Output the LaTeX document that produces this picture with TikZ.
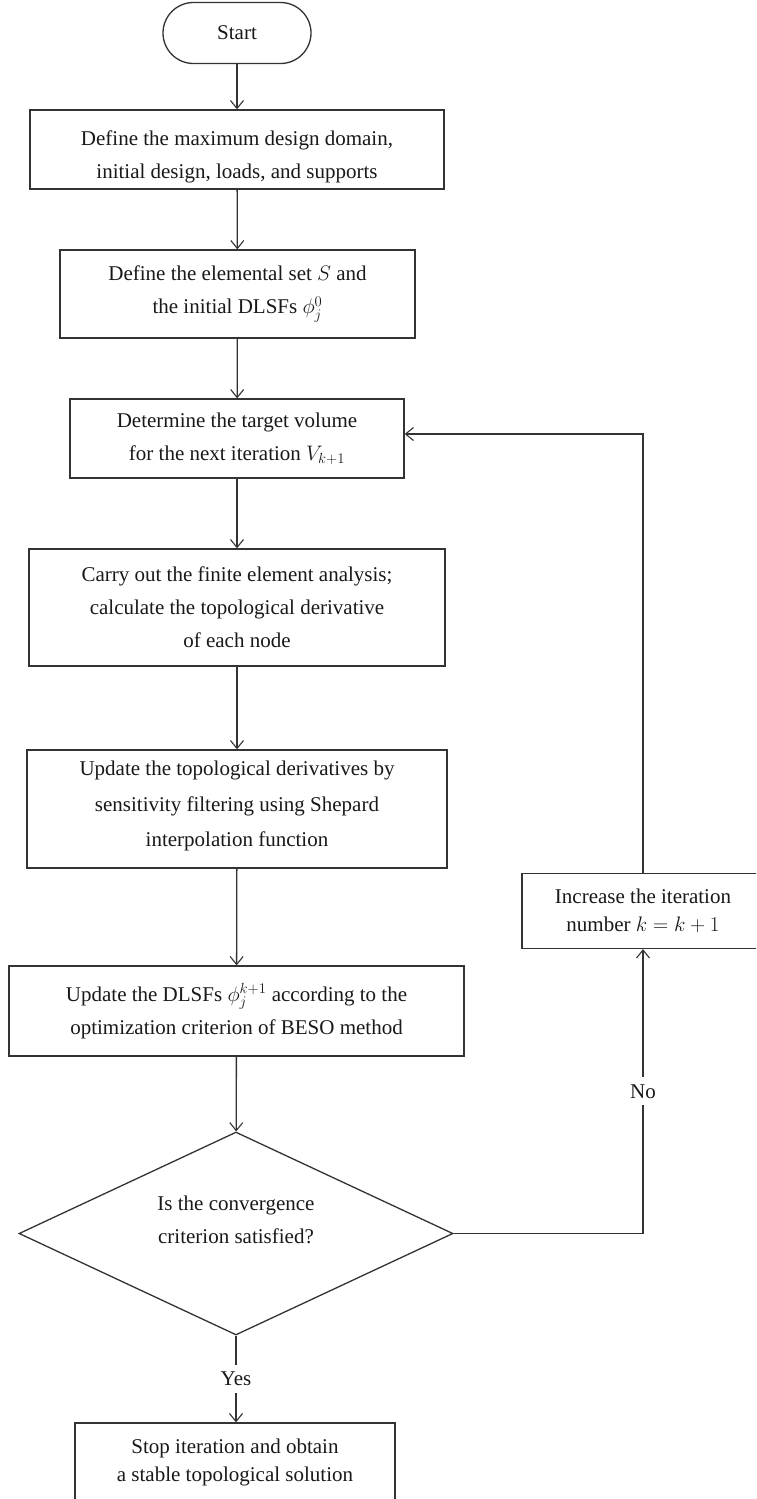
\documentclass[tikz,border=0pt]{standalone}
\usepackage{fix-cm}
\usepackage{fontspec}
\setmainfont{Liberation Serif}
\usetikzlibrary{shapes.geometric,arrows.meta}
\newcommand{\shifttext}[2]{\raisebox{#1}[\height][\depth]{\begin{tabular}{@{}c@{}}#2\end{tabular}}}
\begin{document}
\begin{tikzpicture}[x=1pt,y=-1pt,
  line width=1.3pt,
  txt/.style={text=black!90, font=\fontsize{21}{33}\selectfont},
  box/.style={txt, draw=black!80, rectangle, align=center, inner sep=0pt},
  arr/.style={draw=black!80,-{Straight Barb[length=8pt,width=13pt,line width=1.1pt]}},
  lab/.style={txt, fill=white, inner sep=7pt}
]
\useasboundingbox (0,0) rectangle (756,1499);
\fill[white] (0,0) rectangle (756,1499);
\clip (0,0) rectangle (756,1499);

\node[box, rounded corners=30.5pt, minimum width=148pt, minimum height=61pt] (start) at (237,33) {Start};
\node[box, minimum width=414pt, minimum height=79pt] (b1) at (237,149.5) {\shifttext{-6pt}{Define the maximum design domain,\\ initial design, loads, and supports}};
\node[box, minimum width=355pt, minimum height=88pt] (b2) at (237.5,294) {Define the elemental set $S$ and\\ the initial DLSFs $\phi_j^0$};
\node[box, minimum width=334pt, minimum height=79pt] (b3) at (237,438.5) {Determine the target volume\\ for the next iteration $V_{k+1}$};
\node[box, minimum width=416pt, minimum height=117pt] (b4) at (237,607.5) {Carry out the finite element analysis;\\ calculate the topological derivative\\ of each node};
\node[box, minimum width=420pt, minimum height=118pt, font=\fontsize{21}{35.5}\selectfont] (b5) at (237,809) {\shifttext{5pt}{Update the topological derivatives by\\ sensitivity filtering using Shepard\\ interpolation function}};
\node[box, minimum width=455pt, minimum height=90pt] (b6) at (236.5,1011) {Update the DLSFs $\phi_j^{k+1}$ according to the\\ optimization criterion of BESO method};
\node[draw=black!80, diamond, minimum width=434pt, minimum height=203pt, inner sep=0pt] (d) at (236,1233.5) {};
\node[txt, align=center] (dt) at (236,1220) {Is the convergence\\ criterion satisfied?};
\node[box, minimum width=242pt, minimum height=75pt, font=\fontsize{21}{28}\selectfont] (r) at (643,911) {Increase the iteration\\ number $k=k+1$};
\node[box, minimum width=320pt, minimum height=87pt, font=\fontsize{21}{28}\selectfont] (f) at (235,1466.5) {\shifttext{5pt}{Stop iteration and obtain\\ a stable topological solution}};

\draw[arr] (start) -- (b1);
\draw[arr] (b1) -- (b2);
\draw[arr] (b2) -- (b3);
\draw[arr] (b3) -- (b4);
\draw[arr] (b4) -- (b5);
\draw[arr] (b5) -- (b6);
\draw[arr] (b6) -- (d);
\draw[arr] (d.south) -- node[lab] {Yes} (d.south |- f.north);
\draw[arr] (d.east) -| node[lab, pos=0.75] {No} (r.south);
\draw[arr] (r.north) |- ([yshift=4.5pt]b3.east);
\end{tikzpicture}
\end{document}
